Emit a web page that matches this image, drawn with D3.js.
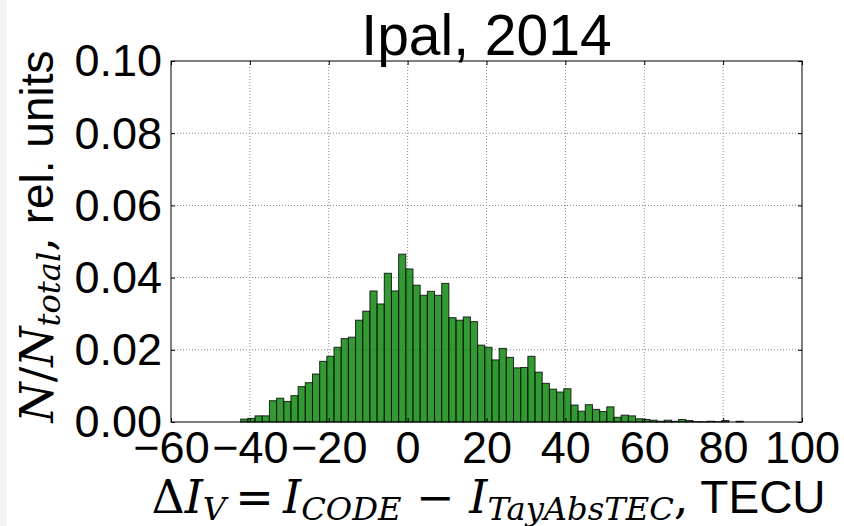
<!DOCTYPE html>
<html>
<head>
<meta charset="utf-8">
<script src="https://cdn.jsdelivr.net/npm/d3@7"></script>
<style>
  body { margin: 0; background: #fff; }
  svg { display: block; }
</style>
</head>
<body>
<div id="chart"></div>
<script>
const margin = {
    top: 61,
    right: 42,
    bottom: 104,
    left: 171
};

const fullWidth = 844;
const fullHeight = 526;
const width = fullWidth - margin.left - margin.right;
const height = fullHeight - margin.top - margin.bottom;

// histogram: 70 equal bins between the sample min and max
const binLow = -42.33;
const binHigh = 85.1;
const binCount = 70;
const freq = [
    0.0008, 0.0010, 0.0017, 0.0017, 0.0059, 0.0066, 0.0057, 0.0073, 0.0098, 0.0109,
    0.0133, 0.0168, 0.0182, 0.0207, 0.0231, 0.0235, 0.0282, 0.0307, 0.0363, 0.0327,
    0.0412, 0.0363, 0.0465, 0.0424, 0.0379, 0.0351, 0.0362, 0.0351, 0.0384, 0.0289,
    0.0282, 0.0291, 0.0278, 0.0213, 0.0207, 0.0172, 0.0204, 0.0179, 0.0150, 0.0151,
    0.0182, 0.0138, 0.0107, 0.0091, 0.0083, 0.0092, 0.0047, 0.0030, 0.0048, 0.0035,
    0.0029, 0.0042, 0.0013, 0.0019, 0.0017, 0.0009, 0.0007, 0.0005, 0.0002, 0.0005,
    0.0002, 0.0007, 0.0004, 0.0001, 0.0001, 0.0002, 0.0001, 0.0004, 0.0000, 0.0002
];

const xTicks = [-60, -40, -20, 0, 20, 40, 60, 80, 100];
const yTicks = [0, 0.02, 0.04, 0.06, 0.08, 0.10];
const title = 'Ipal, 2014';

const binStep = (binHigh - binLow) / binCount;
const bins = freq.map((f, i) => ({ x0: binLow + i * binStep, x1: binLow + (i + 1) * binStep, f: f }));

const sans = '"Liberation Sans", Arial, sans-serif';
const serif = '"DejaVu Serif", "Liberation Serif", serif';

const svg = d3.select('#chart').append('svg')
    .attr('width', fullWidth)
    .attr('height', fullHeight);

// faint strip on the left edge of the original image
svg.append('rect').attr('x', 0).attr('y', 0).attr('width', 7).attr('height', fullHeight).attr('fill', '#f4f4f4');

const x = d3.scaleLinear().domain([-60, 100]).range([0, width]);
const y = d3.scaleLinear().domain([0, 0.10]).range([height, 0]);

const g = svg.append('g').attr('transform', 'translate(' + margin.left + ',' + margin.top + ')');

// grid
g.append('g').selectAll('line').data(xTicks.slice(1, -1)).join('line')
    .attr('x1', d => x(d)).attr('x2', d => x(d))
    .attr('y1', 0).attr('y2', height)
    .attr('stroke', '#888').attr('stroke-width', 1).attr('stroke-dasharray', '1,2');
g.append('g').selectAll('line').data(yTicks.slice(1, -1)).join('line')
    .attr('y1', d => y(d)).attr('y2', d => y(d))
    .attr('x1', 0).attr('x2', width)
    .attr('stroke', '#888').attr('stroke-width', 1).attr('stroke-dasharray', '1,2');

// bars
g.append('g').selectAll('rect').data(bins).join('rect')
    .attr('x', d => x(d.x0))
    .attr('width', d => x(d.x1) - x(d.x0))
    .attr('y', d => y(d.f))
    .attr('height', d => y(0) - y(d.f))
    .attr('fill', '#008000').attr('fill-opacity', 0.8)
    .attr('stroke', '#000').attr('stroke-opacity', 0.8).attr('stroke-width', 1);

// axes: inward ticks on all four sides, labels bottom / left
const tickLen = 4;
const xAxisB = d3.axisBottom(x).tickValues(xTicks).tickSizeInner(-tickLen).tickSizeOuter(0)
    .tickFormat(d => d3.format('d')(d).replace('-', '\u2212'));
const xAxisT = d3.axisTop(x).tickValues(xTicks).tickSizeInner(-tickLen).tickSizeOuter(0).tickFormat('');
const yAxisL = d3.axisLeft(y).tickValues(yTicks).tickSizeInner(-tickLen).tickSizeOuter(0).tickPadding(9)
    .tickFormat(d3.format('.2f'));
const yAxisR = d3.axisRight(y).tickValues(yTicks).tickSizeInner(-tickLen).tickSizeOuter(0).tickFormat('');

const xAxisG = g.append('g').attr('transform', 'translate(0,' + height + ')').call(xAxisB);
g.append('g').call(xAxisT);
const yAxisG = g.append('g').call(yAxisL);
g.append('g').attr('transform', 'translate(' + width + ',0)').call(yAxisR);

g.selectAll('.domain').remove();
g.selectAll('.tick line').attr('stroke', '#000').attr('stroke-width', 1);
xAxisG.selectAll('text').attr('font-family', sans).attr('font-size', 45).attr('fill', '#000')
    .attr('dy', null).attr('y', 41);
yAxisG.selectAll('text').attr('font-family', sans).attr('font-size', 45).attr('fill', '#000')
    .attr('dy', '0.33em');

// frame
g.append('rect').attr('width', width).attr('height', height)
    .attr('fill', 'none').attr('stroke', '#000').attr('stroke-width', 1);

// title
svg.append('text')
    .attr('x', margin.left + width / 2).attr('y', 55)
    .attr('text-anchor', 'middle')
    .attr('font-family', sans).attr('font-size', 57)
    .text(title);

function mathPart(sel, parts) {
    parts.forEach(p => {
        const t = sel.append('tspan').text(p.t);
        t.attr('font-family', p.sans ? sans : serif);
        if (p.it) t.attr('font-style', 'italic');
        if (p.sub) t.attr('font-size', '0.7em');
        if (p.dy) t.attr('dy', p.dy);
        if (p.size) t.attr('font-size', p.size);
    });
}

// x label: ΔI_V = I_CODE − I_TayAbsTEC, TECU
const xl = svg.append('text')
    .attr('x', margin.left + width / 2 + 2).attr('y', 513)
    .attr('text-anchor', 'middle')
    .attr('font-size', 46);

mathPart(xl, [
    { t: '\u0394' },
    { t: 'I', it: true },
    { t: 'V', it: true, sub: true, dy: 7 },
    { t: '\u2009=\u2009', dy: -7 },
    { t: 'I', it: true },
    { t: 'CODE', it: true, sub: true, dy: 7 },
    { t: ' \u2212 ', dy: -7 },
    { t: 'I', it: true },
    { t: 'TayAbsTEC', it: true, sub: true, dy: 7 },
    { t: ',', dy: -7 },
    { t: ' TECU', sans: true }
]);

// y label: N/N_total, rel. units
const yl = svg.append('text')
    .attr('transform', 'translate(53,' + (margin.top + height / 2 - 5) + ') rotate(-90)')
    .attr('text-anchor', 'middle')
    .attr('font-size', 46);

mathPart(yl, [
    { t: 'N', it: true },
    { t: '/' },
    { t: 'N', it: true },
    { t: 'total', it: true, sub: true, dy: 7 },
    { t: ',', dy: -7 },
    { t: ' rel. units', sans: true }
]);
</script>
</body>
</html>
